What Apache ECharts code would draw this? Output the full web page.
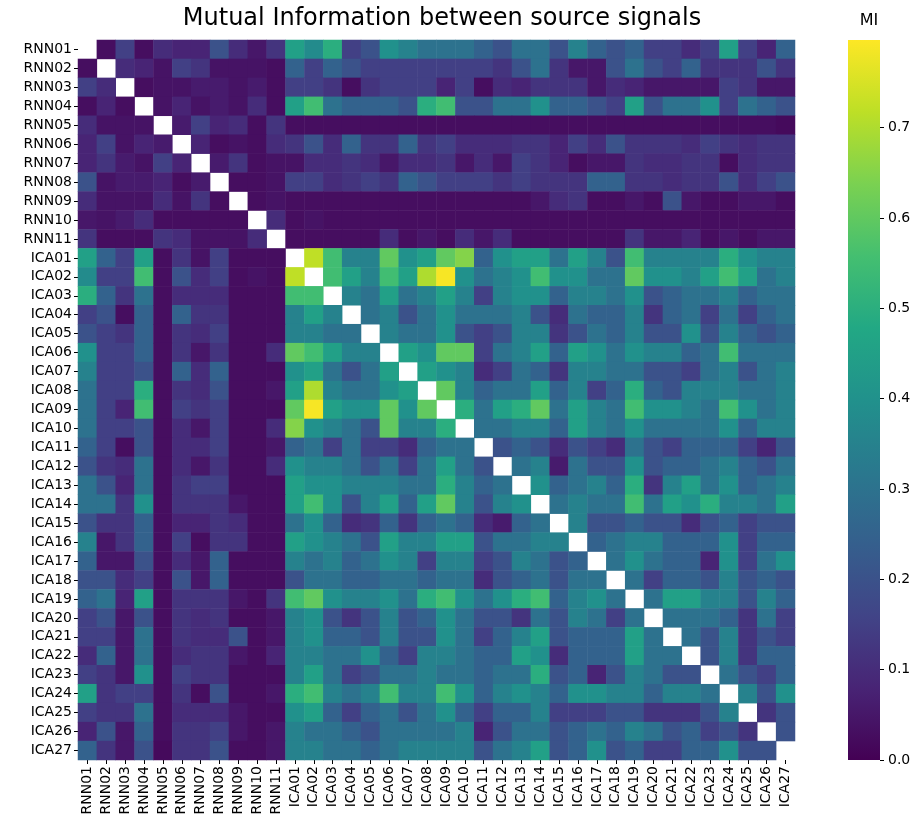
<!DOCTYPE html>
<html><head><meta charset="utf-8">
<script src="https://cdn.jsdelivr.net/npm/echarts@6/dist/echarts.min.js"></script>
<style>html,body{margin:0;padding:0;background:#fff}#c{width:918px;height:824px}</style>
</head><body><div id="c"></div>
<script>
var labels = ["RNN01","RNN02","RNN03","RNN04","RNN05","RNN06","RNN07","RNN08","RNN09","RNN10","RNN11",
"ICA01","ICA02","ICA03","ICA04","ICA05","ICA06","ICA07","ICA08","ICA09","ICA10","ICA11","ICA12","ICA13","ICA14","ICA15","ICA16","ICA17","ICA18","ICA19","ICA20","ICA21","ICA22","ICA23","ICA24","ICA25","ICA26","ICA27"];
var colorbarTicks = [0.0,0.1,0.2,0.3,0.4,0.5,0.6,0.7];
var VMAX = 0.797;
var viridis = ["#440154","#482475","#414487","#355f8d","#2a788e","#21918c","#22a884","#44bf70","#7ad151","#bddf26","#fde725"];
// lower triangle of the symmetric MI matrix: row i holds columns 0..i-1
var lower = [
[],
[0.03],
[0.15,0.10],
[0.03,0.08,0.03],
[0.10,0.04,0.04,0.04],
[0.08,0.15,0.04,0.08,0.06],
[0.08,0.12,0.06,0.04,0.15,0.08],
[0.20,0.04,0.06,0.06,0.08,0.03,0.06],
[0.10,0.04,0.04,0.04,0.10,0.04,0.12,0.03],
[0.05,0.04,0.06,0.10,0.03,0.03,0.03,0.03,0.03],
[0.12,0.03,0.03,0.03,0.12,0.10,0.04,0.04,0.04,0.10],
[0.45,0.25,0.15,0.45,0.03,0.12,0.04,0.15,0.03,0.03,0.03],
[0.38,0.15,0.15,0.55,0.03,0.20,0.10,0.15,0.03,0.04,0.03,0.72],
[0.50,0.25,0.12,0.30,0.03,0.10,0.10,0.10,0.03,0.03,0.03,0.55,0.55],
[0.15,0.20,0.03,0.25,0.03,0.25,0.12,0.12,0.03,0.03,0.03,0.35,0.45,0.35],
[0.20,0.15,0.12,0.25,0.03,0.12,0.10,0.15,0.03,0.03,0.03,0.35,0.35,0.30,0.30],
[0.40,0.15,0.15,0.25,0.03,0.12,0.05,0.12,0.03,0.03,0.10,0.60,0.55,0.45,0.35,0.35],
[0.35,0.15,0.15,0.20,0.03,0.25,0.10,0.25,0.03,0.03,0.03,0.40,0.45,0.30,0.20,0.30,0.45],
[0.30,0.15,0.15,0.50,0.03,0.12,0.10,0.20,0.03,0.03,0.05,0.45,0.70,0.35,0.30,0.30,0.40,0.45],
[0.30,0.15,0.08,0.55,0.03,0.15,0.12,0.15,0.03,0.03,0.03,0.60,0.79,0.45,0.40,0.40,0.60,0.40,0.60],
[0.30,0.15,0.15,0.20,0.03,0.10,0.05,0.15,0.03,0.03,0.10,0.65,0.40,0.35,0.30,0.20,0.60,0.35,0.35,0.50],
[0.25,0.15,0.03,0.20,0.03,0.10,0.10,0.15,0.03,0.03,0.05,0.25,0.30,0.15,0.30,0.15,0.15,0.10,0.25,0.30,0.30],
[0.20,0.12,0.10,0.30,0.03,0.10,0.05,0.12,0.03,0.03,0.10,0.40,0.35,0.35,0.30,0.20,0.30,0.15,0.30,0.45,0.30,0.20],
[0.30,0.20,0.08,0.30,0.03,0.12,0.15,0.15,0.03,0.03,0.03,0.45,0.40,0.40,0.35,0.35,0.35,0.30,0.30,0.50,0.35,0.25,0.30],
[0.30,0.30,0.12,0.40,0.03,0.12,0.12,0.12,0.05,0.03,0.03,0.45,0.55,0.40,0.20,0.35,0.45,0.25,0.45,0.60,0.35,0.20,0.35,0.40],
[0.20,0.12,0.12,0.25,0.03,0.08,0.08,0.12,0.10,0.03,0.03,0.30,0.40,0.25,0.10,0.12,0.25,0.12,0.25,0.30,0.25,0.10,0.06,0.25,0.30],
[0.35,0.05,0.12,0.25,0.03,0.15,0.03,0.12,0.12,0.03,0.03,0.45,0.40,0.35,0.30,0.20,0.45,0.35,0.35,0.45,0.45,0.20,0.30,0.30,0.35,0.35],
[0.25,0.05,0.05,0.20,0.03,0.10,0.05,0.25,0.03,0.03,0.03,0.35,0.30,0.35,0.25,0.30,0.40,0.35,0.15,0.35,0.35,0.15,0.20,0.35,0.30,0.20,0.25],
[0.20,0.20,0.10,0.15,0.03,0.20,0.05,0.25,0.03,0.03,0.03,0.20,0.30,0.30,0.25,0.25,0.30,0.30,0.25,0.30,0.30,0.10,0.20,0.25,0.30,0.20,0.30,0.30],
[0.25,0.30,0.08,0.45,0.03,0.12,0.12,0.12,0.05,0.03,0.12,0.55,0.60,0.40,0.35,0.35,0.40,0.30,0.50,0.55,0.40,0.30,0.40,0.50,0.55,0.25,0.35,0.40,0.30],
[0.15,0.20,0.05,0.20,0.03,0.12,0.10,0.12,0.03,0.03,0.05,0.35,0.40,0.20,0.12,0.20,0.35,0.20,0.25,0.40,0.30,0.20,0.20,0.12,0.30,0.20,0.35,0.30,0.15,0.30],
[0.15,0.15,0.05,0.30,0.03,0.12,0.10,0.10,0.20,0.03,0.05,0.35,0.40,0.25,0.25,0.20,0.35,0.20,0.20,0.40,0.30,0.15,0.25,0.35,0.45,0.20,0.25,0.25,0.25,0.45,0.30],
[0.10,0.25,0.05,0.30,0.03,0.10,0.12,0.12,0.05,0.03,0.08,0.35,0.35,0.30,0.30,0.40,0.25,0.15,0.35,0.35,0.30,0.25,0.25,0.45,0.40,0.10,0.25,0.25,0.25,0.45,0.30,0.30],
[0.15,0.12,0.05,0.40,0.03,0.15,0.12,0.12,0.03,0.03,0.03,0.35,0.45,0.30,0.15,0.20,0.30,0.30,0.35,0.30,0.30,0.25,0.30,0.30,0.50,0.20,0.25,0.08,0.20,0.35,0.30,0.20,0.20],
[0.45,0.12,0.15,0.15,0.03,0.12,0.03,0.20,0.03,0.03,0.05,0.50,0.55,0.35,0.30,0.35,0.55,0.35,0.35,0.55,0.40,0.25,0.35,0.40,0.35,0.25,0.40,0.40,0.35,0.35,0.25,0.35,0.35,0.30],
[0.15,0.12,0.12,0.30,0.03,0.10,0.10,0.10,0.05,0.03,0.03,0.40,0.45,0.25,0.15,0.25,0.30,0.20,0.30,0.40,0.25,0.15,0.25,0.25,0.35,0.15,0.15,0.15,0.20,0.20,0.12,0.12,0.12,0.20,0.35],
[0.08,0.20,0.05,0.25,0.03,0.12,0.12,0.15,0.05,0.03,0.05,0.35,0.30,0.30,0.25,0.20,0.30,0.30,0.30,0.30,0.35,0.08,0.20,0.30,0.30,0.20,0.25,0.30,0.25,0.35,0.30,0.20,0.25,0.15,0.20,0.12],
[0.25,0.12,0.05,0.20,0.02,0.12,0.12,0.20,0.03,0.03,0.05,0.35,0.35,0.30,0.30,0.25,0.30,0.35,0.35,0.35,0.35,0.20,0.30,0.35,0.45,0.20,0.25,0.40,0.20,0.25,0.15,0.15,0.25,0.25,0.40,0.20,0.20]
];

var cells = [];
for (var i = 0; i < labels.length; i++) {
  for (var j = 0; j < labels.length; j++) {
    if (i === j) continue;
    var v = i > j ? lower[i][j] : lower[j][i];
    cells.push([j, i, v]);
  }
}
var FONT = 'DejaVu Sans';
var stops = viridis.map(function (c, k) { return { offset: k / (viridis.length - 1), color: c }; });
var chart = echarts.init(document.getElementById('c'), null, { renderer: 'canvas' });
chart.setOption({
  backgroundColor: '#fff',
  animation: false,
  textStyle: { fontFamily: FONT },
  title: [
    { text: 'Mutual Information between source signals', left: 437, top: 2, textAlign: 'center',
      textStyle: { fontFamily: FONT, fontSize: 24, fontWeight: 'normal', color: '#000' } },
    { text: 'MI', left: 864, top: 8, textAlign: 'center',
      textStyle: { fontFamily: FONT, fontSize: 16, fontWeight: 'normal', color: '#000' } }
  ],
  grid: [
    { left: 78, top: 40, width: 717, height: 720 },
    { left: 848, top: 40, width: 32, height: 720 }
  ],
  xAxis: [
    { type: 'category', gridIndex: 0, data: labels, position: 'bottom',
      axisLine: { show: false }, splitLine: { show: false },
      axisTick: { show: true, alignWithLabel: true, length: 4, lineStyle: { color: '#000' } },
      axisLabel: { interval: 0, rotate: 90, fontSize: 14, color: '#000', fontFamily: FONT, margin: 6 } },
    { type: 'category', gridIndex: 1, data: [''], show: false }
  ],
  yAxis: [
    { type: 'category', gridIndex: 0, data: labels, inverse: true,
      axisLine: { show: false }, splitLine: { show: false },
      axisTick: { show: true, alignWithLabel: true, length: 4, lineStyle: { color: '#000' } },
      axisLabel: { interval: 0, fontSize: 14, color: '#000', fontFamily: FONT, margin: 6 } },
    { type: 'value', gridIndex: 1, position: 'right', min: 0, max: VMAX, interval: 0.1,
      axisLine: { show: false }, splitLine: { show: false },
      axisTick: { show: true, length: 4, lineStyle: { color: '#000' } },
      axisLabel: { fontSize: 14, color: '#000', fontFamily: FONT, margin: 8, showMaxLabel: false,
        formatter: function (v) { return colorbarTicks.indexOf(Math.round(v * 10) / 10) >= 0 ? v.toFixed(1) : ''; } } }
  ],
  visualMap: {
    type: 'continuous', min: 0, max: VMAX, show: false, seriesIndex: 0,
    inRange: { color: viridis }
  },
  series: [
    { type: 'heatmap', xAxisIndex: 0, yAxisIndex: 0, data: cells, progressive: 0,
      emphasis: { disabled: true }, itemStyle: { borderWidth: 0 } },
    { type: 'bar', xAxisIndex: 1, yAxisIndex: 1, data: [VMAX], barWidth: '100%', silent: true,
      itemStyle: { color: new echarts.graphic.LinearGradient(0, 1, 0, 0, stops) } }
  ]
});
</script></body></html>
